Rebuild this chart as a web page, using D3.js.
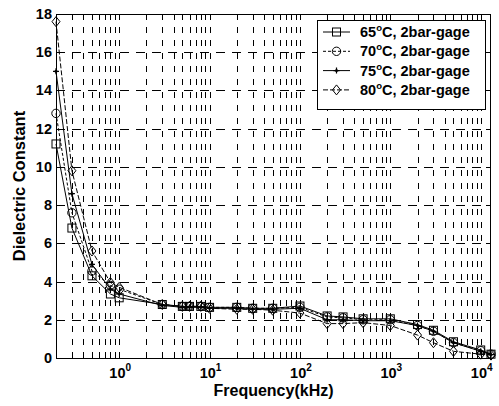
<!DOCTYPE html>
<html>
<head>
<meta charset="utf-8">
<script src="https://cdn.jsdelivr.net/npm/d3@7/dist/d3.min.js"></script>
<style>
  html, body { margin: 0; padding: 0; background: #fff; }
  text { font-family: "Liberation Sans", Arial, sans-serif; font-weight: bold; fill: #000; }
</style>
</head>
<body>
<div id="chart"></div>
<script>
/* ---- data ----------------------------------------------------------- */
var freqs = [0.2, 0.3, 0.5, 0.8, 1, 3, 5, 6, 8, 10, 20, 30, 50, 100, 200, 300, 500, 1000, 2000, 3000, 5000, 10000, 13000];

var eps65 = [11.2, 6.8, 4.3, 3.35, 3.15, 2.8, 2.7, 2.7, 2.7, 2.65, 2.65, 2.6, 2.6, 2.72, 2.2, 2.15, 2.05, 2.05, 1.75, 1.45, 0.85, 0.42, 0.2];
var eps70 = [12.8, 7.6, 4.55, 3.8, 3.6, 2.8, 2.7, 2.7, 2.7, 2.65, 2.65, 2.6, 2.6, 2.65, 2.15, 2.1, 2.0, 2.0, 1.7, 1.4, 0.8, 0.38, 0.2];
var eps75 = [15.0, 8.6, 4.9, 3.6, 3.35, 2.75, 2.65, 2.65, 2.65, 2.6, 2.6, 2.55, 2.55, 2.6, 2.0, 2.0, 1.95, 1.95, 1.7, 1.4, 0.8, 0.35, 0.18];
var eps80 = [17.6, 9.8, 5.6, 3.95, 3.7, 2.8, 2.7, 2.7, 2.7, 2.6, 2.55, 2.55, 2.5, 2.35, 1.8, 1.8, 1.85, 1.7, 1.2, 0.8, 0.35, 0.2, 0.15];

var seriesNames = ['65', '70', '75', '80'];
var seriesValues = [eps65, eps70, eps75, eps80];
var seriesMarkers = ['square', 'circle', 'star', 'diamond'];
var seriesDash = [null, '3,2', null, '5,2'];

var yTicks = [0, 2, 4, 6, 8, 10, 12, 14, 16, 18];
var xMajor = [1, 10, 100, 1000, 10000];

/* ---- layout --------------------------------------------------------- */
var W = 499, H = 406;
var L = 56, R = 491, T = 14, B = 358;

var svg = d3.select('#chart').append('svg').attr('width', W).attr('height', H);

var x = d3.scaleLog().domain([0.2, 13000]).range([L, R]);
var y = d3.scaleLinear().domain([0, 18]).range([B, T]);

/* minor positions: 1..9 of each decade, inside the domain */
var xMinor = [];
[-1, 0, 1, 2, 3, 4].forEach(function (e) {
  for (var k = 1; k <= 9; k++) {
    var v = k * Math.pow(10, e);
    if (v >= 0.2 && v <= 13000) xMinor.push(v);
  }
});

/* ---- grid ----------------------------------------------------------- */
var grid = svg.append('g').attr('stroke', '#000').attr('stroke-width', 1).attr('fill', 'none');
grid.selectAll('line.v').data(xMinor.filter(function (v) { return v > 0.2; })).join('line')
  .attr('class', 'v')
  .attr('x1', function (d) { return Math.round(x(d)) + 0.5; })
  .attr('x2', function (d) { return Math.round(x(d)) + 0.5; })
  .attr('y1', T).attr('y2', B)
  .attr('stroke-dasharray', '6,7');
grid.selectAll('line.h').data(yTicks.filter(function (v) { return v > 0 && v < 18; })).join('line')
  .attr('class', 'h')
  .attr('x1', L).attr('x2', R)
  .attr('y1', function (d) { return Math.round(y(d)) + 0.5; })
  .attr('y2', function (d) { return Math.round(y(d)) + 0.5; })
  .attr('stroke-dasharray', '9,7');

/* ---- ticks ---------------------------------------------------------- */
var ticks = svg.append('g').attr('stroke', '#000').attr('stroke-width', 1);
xMinor.forEach(function (v) {
  var len = xMajor.indexOf(v) >= 0 ? 5 : 3;
  var px = Math.round(x(v)) + 0.5;
  ticks.append('line').attr('x1', px).attr('x2', px).attr('y1', B).attr('y2', B - len);
  ticks.append('line').attr('x1', px).attr('x2', px).attr('y1', T).attr('y2', T + len);
});
yTicks.forEach(function (v) {
  var py = Math.round(y(v)) + 0.5;
  ticks.append('line').attr('x1', L).attr('x2', L + 5).attr('y1', py).attr('y2', py);
  ticks.append('line').attr('x1', R).attr('x2', R - 5).attr('y1', py).attr('y2', py);
});

/* ---- tick labels ---------------------------------------------------- */
svg.append('g').selectAll('text').data(yTicks).join('text')
  .attr('x', L - 4).attr('y', function (d) { return y(d) + 5; })
  .attr('text-anchor', 'end').attr('font-size', 14.5)
  .text(function (d) { return d; });

var xl = svg.append('g').selectAll('text').data(xMajor).join('text')
  .attr('x', function (d) { return x(d) + 1; }).attr('y', 378)
  .attr('text-anchor', 'middle').attr('font-size', 14.5);
xl.append('tspan').text('10');
xl.append('tspan').attr('dy', -7).attr('font-size', 10)
  .text(function (d) { return Math.round(Math.log10(d)); });

/* ---- axis titles ---------------------------------------------------- */
svg.append('text').attr('x', (L + R) / 2).attr('y', 396)
  .attr('text-anchor', 'middle').attr('font-size', 16).text('Frequency(kHz)');
svg.append('text').attr('transform', 'translate(25,' + ((T + B) / 2) + ') rotate(-90)')
  .attr('text-anchor', 'middle').attr('font-size', 16.5).text('Dielectric Constant');

/* ---- series --------------------------------------------------------- */
function drawMarker(g, kind, cx, cy) {
  if (kind === 'square') {
    g.append('rect').attr('x', cx - 4).attr('y', cy - 4).attr('width', 8).attr('height', 8)
      .attr('fill', 'none').attr('stroke', '#000');
  } else if (kind === 'circle') {
    g.append('circle').attr('cx', cx).attr('cy', cy).attr('r', 4.2)
      .attr('fill', 'none').attr('stroke', '#000');
  } else if (kind === 'diamond') {
    g.append('path').attr('d', 'M' + cx + ',' + (cy - 5) + 'L' + (cx + 4) + ',' + cy +
        'L' + cx + ',' + (cy + 5) + 'L' + (cx - 4) + ',' + cy + 'Z')
      .attr('fill', 'none').attr('stroke', '#000');
  } else {
    g.append('path').attr('d', 'M' + (cx - 3) + ',' + cy + 'H' + (cx + 3) +
        'M' + cx + ',' + (cy - 3) + 'V' + (cy + 3))
      .attr('stroke', '#000').attr('stroke-width', 1.2);
    g.append('circle').attr('cx', cx).attr('cy', cy).attr('r', 1.5).attr('fill', '#000');
  }
}

var line = d3.line().x(function (d) { return x(d[0]); }).y(function (d) { return y(d[1]); });

seriesValues.forEach(function (vals, i) {
  var pts = freqs.map(function (f, j) { return [f, vals[j]]; });
  var g = svg.append('g');
  g.append('path').datum(pts).attr('d', line)
    .attr('fill', 'none').attr('stroke', '#000').attr('stroke-width', 1)
    .attr('stroke-dasharray', seriesDash[i]);
  pts.forEach(function (p) { drawMarker(g, seriesMarkers[i], x(p[0]), y(p[1])); });
});

/* ---- frame ---------------------------------------------------------- */
svg.append('rect').attr('x', L + 0.5).attr('y', T + 0.5)
  .attr('width', R - L - 1).attr('height', B - T)
  .attr('fill', 'none').attr('stroke', '#000');

/* ---- legend --------------------------------------------------------- */
var lg = svg.append('g');
lg.append('rect').attr('x', 317.5).attr('y', 20.5).attr('width', 168).attr('height', 89)
  .attr('fill', '#fff').attr('stroke', '#000');
seriesNames.forEach(function (nm, i) {
  var ly = 32 + i * 19.3;
  lg.append('line').attr('x1', 323).attr('x2', 350).attr('y1', ly).attr('y2', ly)
    .attr('stroke', '#000').attr('stroke-dasharray', seriesDash[i]);
  drawMarker(lg, seriesMarkers[i], 336.5, ly);
  var t = lg.append('text').attr('x', 360).attr('y', ly + 5).attr('font-size', 14.5);
  t.append('tspan').text(nm);
  t.append('tspan').attr('dy', -6).attr('font-size', 9.5).text('o');
  t.append('tspan').attr('dy', 6).text('C, 2bar-gage');
});
</script>
</body>
</html>
